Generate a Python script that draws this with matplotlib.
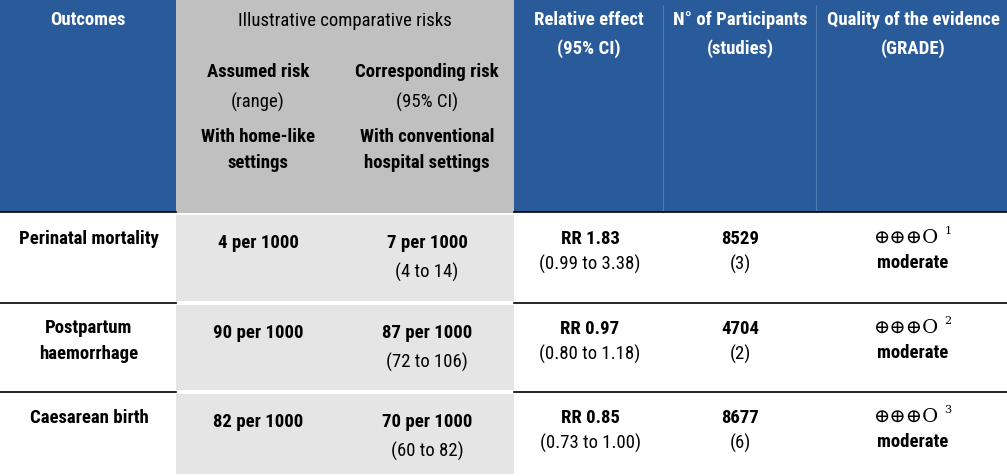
import matplotlib
matplotlib.use("Agg")
import matplotlib.pyplot as plt
from matplotlib import font_manager
from matplotlib.patches import Rectangle

# ---- data ----
outcomes = ["Perinatal mortality", "Postpartum\nhaemorrhage", "Caesarean birth"]
assumed_risk = ["4 per 1000", "90 per 1000", "82 per 1000"]
corresponding_risk = ["7 per 1000", "87 per 1000", "70 per 1000"]
corresponding_ci = ["(4 to 14)", "(72 to 106)", "(60 to 82)"]
relative_effect = ["RR 1.83", "RR 0.97", "RR 0.85"]
relative_ci = ["(0.99 to 3.38)", "(0.80 to 1.18)", "(0.73 to 1.00)"]
participants = ["8529", "4704", "8677"]
studies = ["(3)", "(2)", "(6)"]
grade_symbols = ["⊕⊕⊕O", "⊕⊕⊕O", "⊕⊕⊕O"]
grade_notes = ["1", "2", "3"]
quality = ["moderate", "moderate", "moderate"]

# ---- fonts ----
avail = {f.name for f in font_manager.fontManager.ttflist}
sans = next((f for f in ["Roboto Condensed", "Liberation Sans Narrow", "Open Sans Condensed",
                         "Noto Sans", "Liberation Sans"] if f in avail), "DejaVu Sans")
serif = "DejaVu Serif"

BLUE = "#295b9a"
GREY_H = "#c0c0c0"
GREY_B = "#e5e5e5"
FS = 13.5

fig = plt.figure(figsize=(10.07, 4.77), dpi=100)
ax = fig.add_axes([0, 0, 1, 1])
ax.set_xlim(0, 1007)
ax.set_ylim(477, 0)
ax.axis("off")

hdr_bottom = 213
row_tops = [214, 304, 393]
row_bottoms = [304, 393, 477]

# header backgrounds
ax.add_patch(Rectangle((0, 0), 176, hdr_bottom, color=BLUE, lw=0))
ax.add_patch(Rectangle((176, 0), 338, hdr_bottom + 1, color=GREY_H, lw=0))
ax.add_patch(Rectangle((514, 0), 493, hdr_bottom, color=BLUE, lw=0))
for x in (663, 816):
    ax.plot([x, x], [6, hdr_bottom], color="#4f7cb3", lw=0.8)

# grey body cells
for t, b in zip(row_tops, row_bottoms):
    ax.add_patch(Rectangle((176, t + 1.5), 338, b - t - 4, color=GREY_B, lw=0))

# horizontal rules
for y in [hdr_bottom] + row_tops[1:]:
    ax.plot([0, 176], [y, y], color="black", lw=1.2)
    ax.plot([514, 1007], [y, y], color="black", lw=1.2)

def txt(x, y, s, bold=False, color="black", size=FS, family=None, ha="center", va="center"):
    ax.text(x, y, s, ha=ha, va=va, fontsize=size, color=color,
            fontweight="bold" if bold else "normal", family=family or sans,
            linespacing=1.6)

# header text
txt(88, 20, "Outcomes", bold=True, color="white")
txt(345, 21, "Illustrative comparative risks")
txt(258, 72, "Assumed risk", bold=True)
txt(258, 102, "(range)")
txt(258, 150, "With home-like\nsettings", bold=True)
txt(427, 72, "Corresponding risk", bold=True)
txt(427, 102, "(95% CI)")
txt(427, 150, "With conventional\nhospital settings", bold=True)
txt(589, 20, "Relative effect", bold=True, color="white")
txt(589, 49, "(95% CI)", bold=True, color="white")
txt(740, 20, "N° of Participants", bold=True, color="white")
txt(740, 49, "(studies)", bold=True, color="white")
txt(913, 20, "Quality of the evidence", bold=True, color="white")
txt(913, 49, "(GRADE)", bold=True, color="white")

# body
for i, t in enumerate(row_tops):
    if "\n" in outcomes[i]:
        txt(89, t + 37, outcomes[i], bold=True)
    else:
        txt(89, t + 25, outcomes[i], bold=True)
    txt(258, t + 29, assumed_risk[i], bold=True)
    txt(427, t + 29, corresponding_risk[i], bold=True)
    txt(427, t + 58, corresponding_ci[i])
    txt(590, t + 25, relative_effect[i], bold=True)
    txt(590, t + 50, relative_ci[i])
    txt(740, t + 25, participants[i], bold=True)
    txt(740, t + 50, studies[i])
    txt(907, t + 24, grade_symbols[i], family=serif, size=14)
    txt(948, t + 17, grade_notes[i], family=serif, size=8)
    txt(913, t + 49, quality[i], bold=True)

fig.savefig("out.png", dpi=100)
